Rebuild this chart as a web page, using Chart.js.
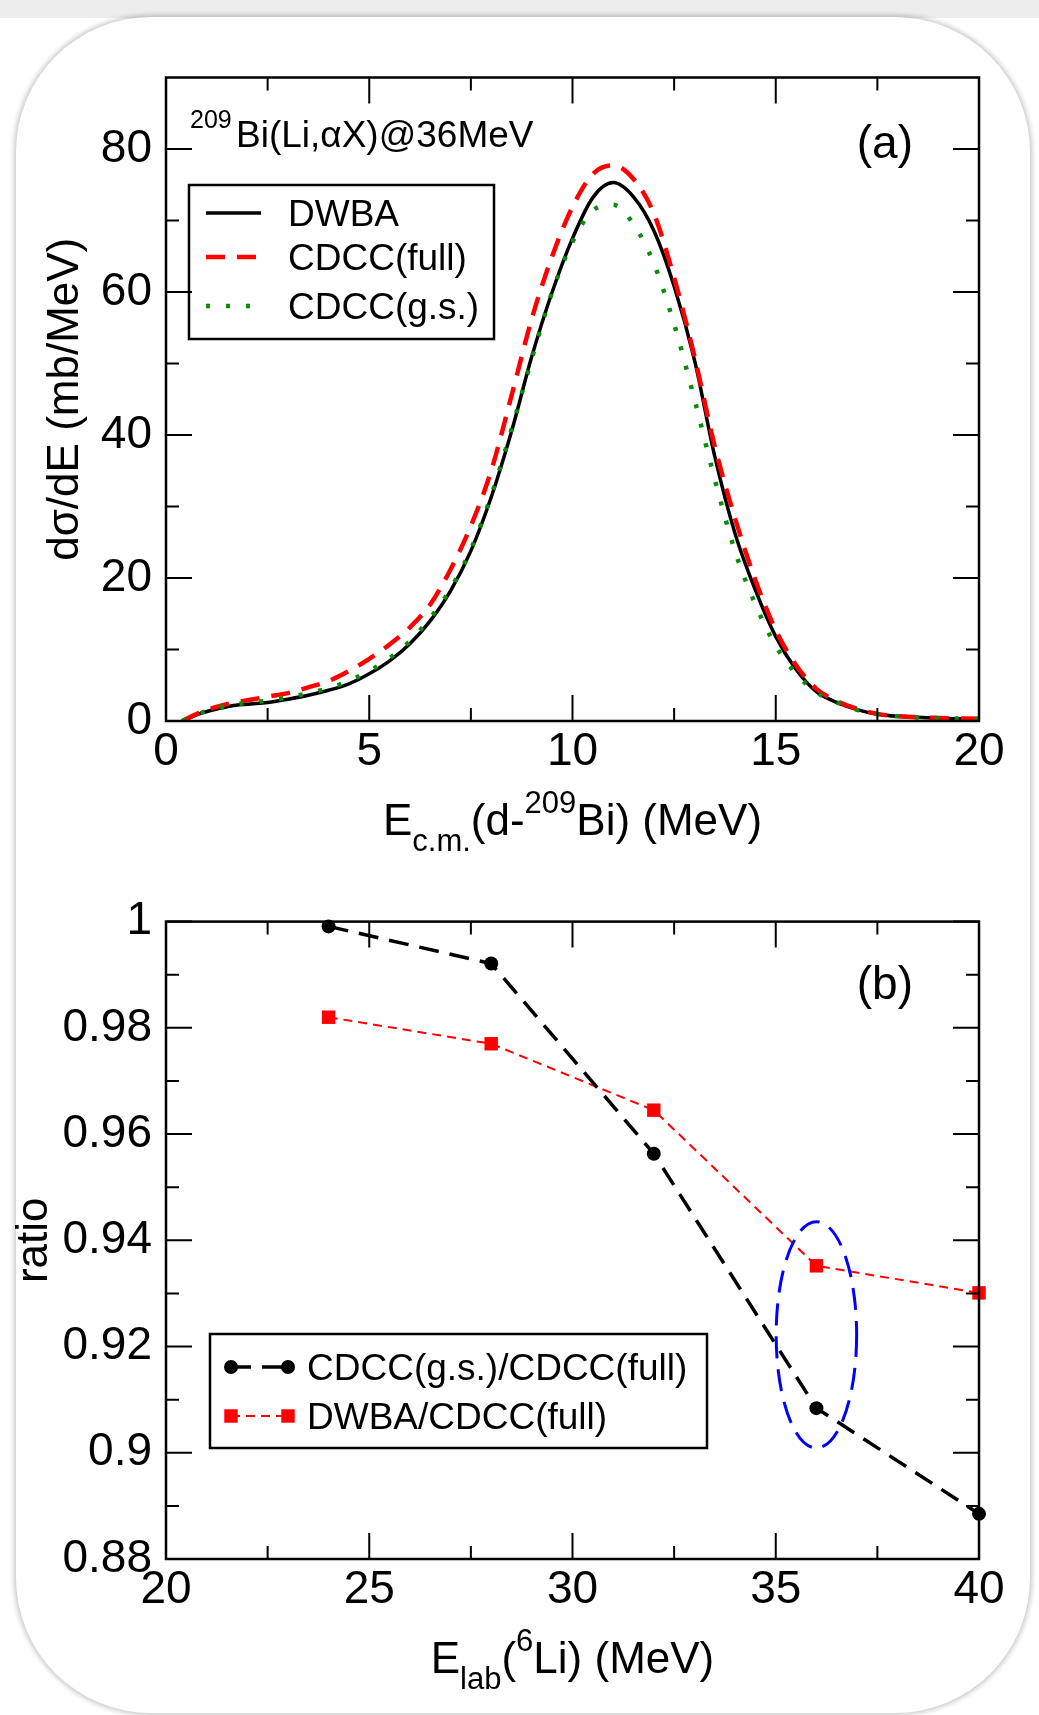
<!DOCTYPE html>
<html>
<head>
<meta charset="utf-8">
<script src="https://cdn.jsdelivr.net/npm/chart.js@4.4.0/dist/chart.umd.min.js"></script>
<style>
  html, body { margin: 0; padding: 0; background: #fff; }
  #page { position: relative; width: 1039px; height: 1715px; overflow: hidden; }
  #band { position: absolute; left: 0; top: 0; width: 1039px; height: 18px; background: #ededed; }
  #card { position: absolute; left: 16px; top: 17px; width: 1014px; height: 1696px;
          border-radius: 135px; background: #fff; box-shadow: 0 0 5px 2px rgba(0,0,0,0.22); }
  canvas { position: absolute; left: 0; }
  #cvA { top: 0; }
  #cvB { top: 880px; }
</style>
</head>
<body>
<div id="page">
  <div id="band"></div>
  <div id="card"></div>
  <canvas id="cvA" width="1039" height="880"></canvas>
  <canvas id="cvB" width="1039" height="835"></canvas>
</div>
<script>
// ---- panel (a): d(sigma)/dE vs E_cm ----
const energyA = [0.4, 0.8, 1.2, 1.6, 2, 2.5, 3, 3.5, 4, 4.5, 5, 5.5, 6, 6.5, 7, 7.5, 8, 8.5, 9, 9.5,
                 10, 10.5, 11, 11.5, 12, 12.5, 13, 13.5, 14, 14.5, 15, 15.5, 16, 16.5, 17, 17.5, 18, 19, 20];
const dwba     = [0, 0.95, 1.6, 2.1, 2.35, 2.6, 3.05, 3.6, 4.3, 5.2, 6.6, 8.4, 10.8, 14.0, 18.2, 23.8, 31.3, 40.5, 51.0, 60.0,
                  67.5, 73.2, 75.3, 73.3, 68.6, 60.8, 50.5, 37.0, 26.2, 18.3, 11.8, 7.2, 4.1, 2.6, 1.6, 0.95, 0.65, 0.4, 0.28];
const cdccFull = [0, 1.1, 1.9, 2.5, 2.9, 3.4, 3.9, 4.7, 5.6, 7.0, 8.7, 10.7, 13.1, 16.3, 21.2, 27.3, 35.0, 45.5, 56.3, 65.0,
                  71.9, 76.5, 77.7, 75.8, 71.0, 62.0, 51.0, 38.4, 28.3, 19.7, 12.7, 7.8, 4.5, 2.8, 1.7, 1.0, 0.68, 0.42, 0.3];
const cdccGs   = [0, 1.0, 1.75, 2.25, 2.55, 2.85, 3.3, 3.9, 4.6, 5.6, 7.0, 8.8, 11.2, 14.4, 18.5, 24.0, 31.5, 40.8, 50.7, 60.0,
                  67.0, 71.4, 72.2, 69.5, 64.0, 55.5, 45.0, 33.8, 23.7, 16.3, 10.5, 6.6, 4.0, 2.6, 1.55, 0.95, 0.65, 0.4, 0.28];

const xMajorA = [0, 5, 10, 15, 20];
const xMinorA = [2.5, 7.5, 12.5, 17.5];
const yMajorA = [0, 20, 40, 60, 80];
const yMinorA = [10, 30, 50, 70];

// ---- panel (b): ratios vs E_lab ----
const energyB    = [24, 28, 32, 36, 40];
const ratioGs    = [0.9991, 0.9921, 0.9563, 0.9084, 0.8885];
const ratioDwba  = [0.9820, 0.9770, 0.9645, 0.9352, 0.9301];

const xMajorB = [20, 25, 30, 35, 40];
const xMinorB = [22.5, 27.5, 32.5, 37.5];
const yMajorB = [0.88, 0.9, 0.92, 0.94, 0.96, 0.98, 1];
const yMinorB = [0.89, 0.91, 0.93, 0.95, 0.97, 0.99];

// highlighted point (36 MeV): centre and half-axes in data units
const ringCenter = [36, 0.9222];
const ringRadius = [0.99, 0.0213];

const FONT = '"Liberation Sans", Arial, Helvetica, sans-serif';
Chart.defaults.font.family = FONT;
Chart.defaults.color = '#000';

const pts = (xs, ys) => xs.map((x, i) => ({ x, y: ys[i] }));

// draw a run of text pieces: [text, size, dy, font?]
function rich(ctx, parts, x, y, align) {
  let w = 0;
  parts.forEach(p => { ctx.font = p[1] + 'px ' + (p[3] || FONT); w += ctx.measureText(p[0]).width; });
  let cx = align === 'center' ? x - w / 2 : align === 'right' ? x - w : x;
  ctx.textAlign = 'left';
  ctx.textBaseline = 'alphabetic';
  parts.forEach(p => {
    ctx.font = p[1] + 'px ' + (p[3] || FONT);
    ctx.fillText(p[0], cx, y + p[2]);
    cx += ctx.measureText(p[0]).width;
  });
}

// frame + inward ticks on all four sides, plus per-chart decorations
const frame = {
  id: 'frame',
  afterDatasetsDraw(chart, args, o) {
    const { ctx, chartArea: a, scales: { x, y } } = chart;
    ctx.save();
    ctx.strokeStyle = '#000';
    ctx.lineWidth = 2;
    ctx.beginPath();
    const tx = (v, len) => { const p = x.getPixelForValue(v);
      ctx.moveTo(p, a.bottom); ctx.lineTo(p, a.bottom - len);
      ctx.moveTo(p, a.top); ctx.lineTo(p, a.top + len); };
    const ty = (v, len) => { const p = y.getPixelForValue(v);
      ctx.moveTo(a.left, p); ctx.lineTo(a.left + len, p);
      ctx.moveTo(a.right, p); ctx.lineTo(a.right - len, p); };
    o.xMajor.forEach(v => tx(v, 26));
    o.xMinor.forEach(v => tx(v, 13));
    o.yMajor.forEach(v => ty(v, 26));
    o.yMinor.forEach(v => ty(v, 13));
    ctx.stroke();
    ctx.lineWidth = 2.5;
    ctx.strokeRect(a.left, a.top, a.right - a.left, a.bottom - a.top);
    ctx.fillStyle = '#000';
    if (o.decor) o.decor(chart, ctx);
    ctx.restore();
  }
};

function yTitle(ctx, text, bx, cy) {
  ctx.save();
  ctx.translate(bx, cy);
  ctx.rotate(-Math.PI / 2);
  ctx.font = '44px ' + FONT;
  ctx.textAlign = 'center';
  ctx.textBaseline = 'alphabetic';
  ctx.fillText(text, 0, 0);
  ctx.restore();
}

function decorA(chart, ctx) {
  const a = chart.chartArea;
  // reaction label
  rich(ctx, [['209', 25, 0]], 190, 128, 'left');
  rich(ctx, [['Bi(Li,', 37, 0], ['\u03b1', 37, 0, 'italic "Liberation Serif", serif'], ['X)@36MeV', 37, 0]], 236, 147, 'left');
  rich(ctx, [['(a)', 46, 0]], 913, 158, 'right');
  // axis titles
  rich(ctx, [['E', 44, 0], ['c.m.', 31, 16], ['(d-', 44, 0], ['209', 31, -22], ['Bi) (MeV)', 44, 0]],
       (a.left + a.right) / 2, 835, 'center');
  yTitle(ctx, 'd\u03c3/dE (mb/MeV)', 78, (a.top + a.bottom) / 2);
  // legend box
  ctx.lineWidth = 2.5;
  ctx.strokeRect(189, 185, 305, 154);
  const rows = [213, 257, 306];
  chart.data.datasets.forEach((ds, i) => {
    ctx.save();
    ctx.strokeStyle = ds.borderColor;
    ctx.lineWidth = ds.borderWidth;
    ctx.setLineDash(ds.borderDash || []);
    ctx.beginPath();
    ctx.moveTo(206, rows[i]); ctx.lineTo(261, rows[i]);
    ctx.stroke();
    ctx.restore();
    rich(ctx, [[ds.label, 37, 0]], 288, rows[i] + 13, 'left');
  });
}

function decorB(chart, ctx) {
  const a = chart.chartArea;
  const { x, y } = chart.scales;
  // dashed ring round the 36 MeV points
  ctx.save();
  ctx.strokeStyle = '#0000ff';
  ctx.lineWidth = 3;
  ctx.setLineDash([22, 11]);
  const cx = x.getPixelForValue(ringCenter[0]), cy = y.getPixelForValue(ringCenter[1]);
  const rx = Math.abs(x.getPixelForValue(ringCenter[0] + ringRadius[0]) - cx);
  const ry = Math.abs(y.getPixelForValue(ringCenter[1] + ringRadius[1]) - cy);
  ctx.beginPath();
  ctx.ellipse(cx, cy, rx, ry, 0, 0, Math.PI * 2);
  ctx.stroke();
  ctx.restore();

  rich(ctx, [['(b)', 46, 0]], 913, 119, 'right');
  rich(ctx, [['E', 44, 0], ['lab', 31, 16], ['(', 44, 0], ['6', 31, -22], ['Li) (MeV)', 44, 0]],
       (a.left + a.right) / 2, 793, 'center');
  yTitle(ctx, 'ratio', 47, (a.top + a.bottom) / 2);

  // legend with a marker at both ends of each sample
  ctx.lineWidth = 2.5;
  ctx.strokeRect(210, 454, 497, 114);
  const rows = [487, 536];
  chart.data.datasets.forEach((ds, i) => {
    const r = rows[i];
    ctx.save();
    ctx.strokeStyle = ds.borderColor;
    ctx.fillStyle = ds.backgroundColor;
    ctx.lineWidth = ds.borderWidth;
    ctx.setLineDash(ds.borderDash || []);
    ctx.beginPath();
    ctx.moveTo(231, r); ctx.lineTo(288, r);
    ctx.stroke();
    [231, 288].forEach(px => {
      if (ds.pointStyle === 'rect') {
        const s = ds.pointRadius * Math.SQRT1_2;
        ctx.fillRect(px - s, r - s, 2 * s, 2 * s);
      } else {
        ctx.beginPath();
        ctx.arc(px, r, ds.pointRadius, 0, Math.PI * 2);
        ctx.fill();
      }
    });
    ctx.restore();
    rich(ctx, [[ds.label, 37, 0]], 307, r + 13, 'left');
  });
}

const fmt = v => String(+v.toFixed(2));

function axes(xMin, xMax, yMin, yMax, xTicks, yTicks, xH) {
  return {
    x: {
      type: 'linear', min: xMin, max: xMax,
      grid: { display: false, drawTicks: false }, border: { display: false },
      afterBuildTicks: s => { s.ticks = xTicks.map(v => ({ value: v })); },
      afterFit: s => { s.height = xH; },
      ticks: { font: { size: 46 }, padding: 4, maxRotation: 0, autoSkip: false, callback: fmt }
    },
    y: {
      type: 'linear', min: yMin, max: yMax,
      grid: { display: false, drawTicks: false }, border: { display: false },
      afterBuildTicks: s => { s.ticks = yTicks.map(v => ({ value: v })); },
      afterFit: s => { s.width = 166; },
      ticks: { font: { size: 46 }, padding: 14, autoSkip: false, callback: fmt }
    }
  };
}

new Chart(document.getElementById('cvA'), {
  type: 'line',
  data: {
    datasets: [
      { label: 'DWBA', data: pts(energyA, dwba), borderColor: '#000000', borderWidth: 3.5, order: 3 },
      { label: 'CDCC(full)', data: pts(energyA, cdccFull), borderColor: '#ff0000', borderWidth: 4.5,
        borderDash: [19, 12], order: 2 },
      { label: 'CDCC(g.s.)', data: pts(energyA, cdccGs), borderColor: '#0a8c0a', borderWidth: 4.5,
        borderDash: [4, 16], order: 1 }
    ].map(d => Object.assign({ pointRadius: 0, fill: false, cubicInterpolationMode: 'monotone' }, d))
  },
  options: {
    responsive: false, animation: false, events: [],
    layout: { padding: { top: 77.5, right: 60, left: 0, bottom: 0 } },
    scales: axes(0, 20, 0, 90, xMajorA, yMajorA, 159),
    plugins: {
      legend: { display: false }, tooltip: { enabled: false },
      frame: { xMajor: xMajorA, xMinor: xMinorA, yMajor: yMajorA, yMinor: yMinorA, decor: decorA }
    }
  },
  plugins: [frame]
});

new Chart(document.getElementById('cvB'), {
  type: 'line',
  data: {
    datasets: [
      { label: 'CDCC(g.s.)/CDCC(full)', data: pts(energyB, ratioGs), borderColor: '#000000',
        backgroundColor: '#000000', borderWidth: 3.5, borderDash: [20, 11], pointStyle: 'circle', pointRadius: 7 },
      { label: 'DWBA/CDCC(full)', data: pts(energyB, ratioDwba), borderColor: '#ff0000',
        backgroundColor: '#ff0000', borderWidth: 2, borderDash: [9, 6], pointStyle: 'rect', pointRadius: 9.5 }
    ].map(d => Object.assign({ pointBorderWidth: 0, tension: 0, fill: false, clip: false }, d))
  },
  options: {
    responsive: false, animation: false, events: [],
    layout: { padding: { top: 35, right: 60, left: 0, bottom: 0 } },
    scales: axes(20, 40, 0.88, 1, xMajorB, yMajorB, 156),
    plugins: {
      legend: { display: false }, tooltip: { enabled: false },
      frame: { xMajor: xMajorB, xMinor: xMinorB, yMajor: yMajorB, yMinor: yMinorB, decor: decorB }
    }
  },
  plugins: [frame]
});
</script>
</body>
</html>
